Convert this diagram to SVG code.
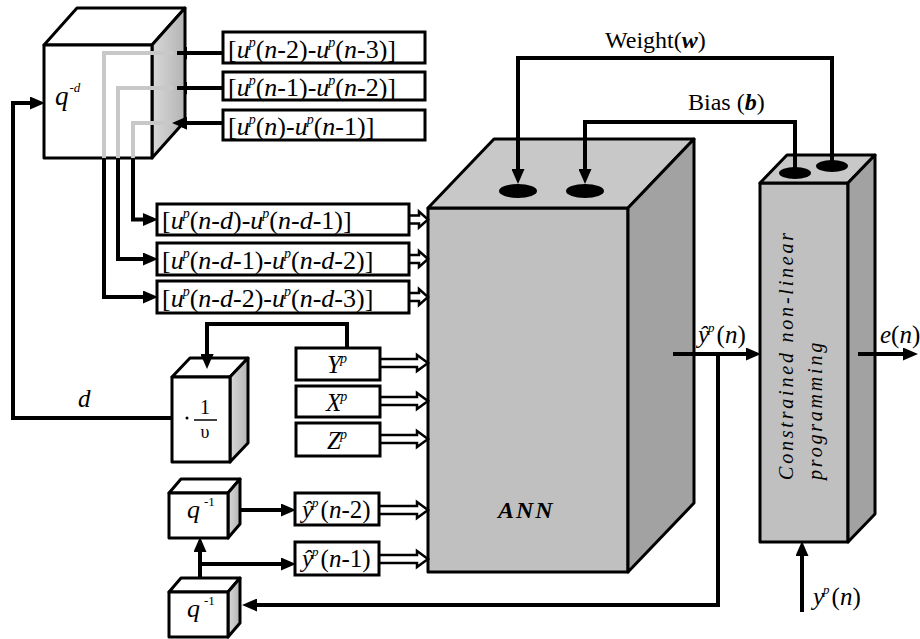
<svg xmlns="http://www.w3.org/2000/svg" width="920" height="639" viewBox="0 0 920 639" font-family="'Liberation Serif', Tinos, 'Times New Roman', 'DejaVu Serif', serif">
<defs>
<marker id="ah" markerUnits="userSpaceOnUse" markerWidth="15" markerHeight="13" refX="10" refY="6.5" orient="auto">
<path d="M0,0 L15,6.5 L0,13 z" fill="#000"/>
</marker>
<linearGradient id="sideG" x1="0" y1="0" x2="1" y2="0">
<stop offset="0" stop-color="#d8d8d8"/>
<stop offset="1" stop-color="#b4b4b4"/>
</linearGradient>
<style>
text{font-family:'Liberation Serif',Tinos,'Times New Roman','DejaVu Serif',serif}
.t{fill:#000}
.bx{fill:#fff;stroke:#000;stroke-width:3}
.cf{fill:#fff;stroke:#000;stroke-width:3;stroke-linejoin:round}
.cs{fill:url(#sideG);stroke:#000;stroke-width:3;stroke-linejoin:round}
.gf{fill:#c0c0c0;stroke:#000;stroke-width:3;stroke-linejoin:round}
.gt{fill:#c8c8c8;stroke:#000;stroke-width:3;stroke-linejoin:round}
.gs{fill:#a2a2a2;stroke:#000;stroke-width:3;stroke-linejoin:round}
.c{fill:none;stroke:#000;stroke-width:4;stroke-linejoin:miter}
.a{marker-end:url(#ah)}
.g{fill:none;stroke:#c8c8c8;stroke-width:4}
.h{fill:#fff;stroke:#000;stroke-width:2.5;stroke-linejoin:miter}
.i{font-style:italic}
.bi{font-style:italic;font-weight:bold}
</style>
</defs>

<g id="ann">
<rect class="gf" x="428" y="208" width="200" height="364"/>
<polygon class="gt" points="428,208 494,139 694,139 628,208"/>
<polygon class="gs" points="628,208 694,139 694,503 628,572"/>
<ellipse cx="518" cy="191" rx="19" ry="7" fill="#000"/>
<ellipse cx="585" cy="191" rx="19" ry="7" fill="#000"/>
<text class="t bi" x="498" y="518" font-size="24" letter-spacing="2">ANN</text>
</g>

<g id="cnlp">
<rect class="gf" x="760" y="183" width="88" height="359"/>
<polygon class="gt" points="760,183 787,155 875,155 848,183"/>
<polygon class="gs" points="848,183 875,155 875,514 848,542"/>
<ellipse cx="795" cy="173" rx="16" ry="6" fill="#000"/>
<ellipse cx="832" cy="166" rx="16" ry="6" fill="#000"/>
<text class="t i" font-size="20" letter-spacing="2.8" transform="translate(793,480) rotate(-90)">Constrained non-linear</text>
<text class="t i" font-size="20" letter-spacing="2.8" transform="translate(822,480) rotate(-90)">programming</text>
</g>

<g id="connectors">
<path class="g" d="M173,53 H104 V158"/>
<path class="g" d="M173,88 H118 V158"/>
<path class="g" d="M173,123 H133 V158"/>
<path class="c a" d="M223,53 H177"/>
<path class="c a" d="M223,88 H177"/>
<path class="c a" d="M223,123 H177"/>
<path class="c a" d="M133,158 V219.5 H153"/>
<path class="c a" d="M118,158 V259 H153"/>
<path class="c a" d="M104,158 V297 H153"/>
<path class="c a" d="M172,418 H13 V103 H40"/>
<path class="c a" d="M347,348 V324 H207 V364"/>
<path class="c a" d="M832,161 V58 H518 V179"/>
<path class="c a" d="M795,168 V122 H585 V179"/>
<path class="c a" d="M673,354 H756"/>
<path class="c a" d="M718,354 V605 H247"/>
<path class="c a" d="M858,354 H913"/>
<path class="c a" d="M802,612 V546"/>
<path class="c a" d="M237,510 H291"/>
<path class="c a" d="M200,580 V542"/>
<path class="c a" d="M200,564 H291"/>
<path class="h" d="M409,215.5 H419 V211.5 L428,219.5 L419,227.5 V223.5 H409"/>
<path class="h" d="M409,255 H419 V251 L428,259 L419,267 V263 H409"/>
<path class="h" d="M409,293 H419 V289 L428,297 L419,305 V301 H409"/>
<path class="h" d="M380,359 H417 V355 L428,363 L417,371 V367 H380"/>
<path class="h" d="M380,397 H417 V393 L428,401 L417,409 V405 H380"/>
<path class="h" d="M380,435 H417 V431 L428,439 L417,447 V443 H380"/>
<path class="h" d="M379,506 H417 V502 L428,510 L417,518 V514 H379"/>
<path class="h" d="M379,555 H417 V551 L428,559 L417,567 V563 H379"/>
</g>

<g id="qd">
<polygon class="cf" points="44,45 77,8 185,8 152,45"/>
<polygon class="cs" points="152,45 185,8 185,121 152,158"/>
<rect class="cf" x="44" y="45" width="108" height="113"/>
<path class="g" d="M173,53 H104 V158 M173,88 H118 V158 M173,123 H133 V158"/>
<path class="c a" d="M186,53 H177 M186,88 H177 M186,123 H177"/>
<text class="t i" x="55" y="105" font-size="27">q<tspan font-size="13" dy="-13" dx="1">-d</tspan></text>
</g>

<g id="in1"><rect class="bx" x="223" y="32" width="202" height="31"/>
<text class="t" x="228" y="58" font-size="26">[<tspan class="i">u</tspan><tspan class="i" font-size="14" dy="-11" dx="-1">p</tspan><tspan dy="11">(</tspan><tspan class="i">n</tspan>-2)-<tspan class="i">u</tspan><tspan class="i" font-size="14" dy="-11" dx="-1">p</tspan><tspan dy="11">(</tspan><tspan class="i">n</tspan>-3)]</text></g>
<g id="in2"><rect class="bx" x="223" y="72" width="202" height="28"/>
<text class="t" x="228" y="96" font-size="26">[<tspan class="i">u</tspan><tspan class="i" font-size="14" dy="-11" dx="-1">p</tspan><tspan dy="11">(</tspan><tspan class="i">n</tspan>-1)-<tspan class="i">u</tspan><tspan class="i" font-size="14" dy="-11" dx="-1">p</tspan><tspan dy="11">(</tspan><tspan class="i">n</tspan>-2)]</text></g>
<g id="in3"><rect class="bx" x="223" y="110" width="202" height="30"/>
<text class="t" x="228" y="135" font-size="26">[<tspan class="i">u</tspan><tspan class="i" font-size="14" dy="-11" dx="-1">p</tspan><tspan dy="11">(</tspan><tspan class="i">n</tspan>)-<tspan class="i">u</tspan><tspan class="i" font-size="14" dy="-11" dx="-1">p</tspan><tspan dy="11">(</tspan><tspan class="i">n</tspan>-1)]</text></g>

<g id="in4"><rect class="bx" x="157" y="204" width="252" height="31"/>
<text class="t" x="162" y="229" font-size="26">[<tspan class="i">u</tspan><tspan class="i" font-size="14" dy="-11" dx="-1">p</tspan><tspan dy="11">(</tspan><tspan class="i">n</tspan>-<tspan class="i">d</tspan>)-<tspan class="i">u</tspan><tspan class="i" font-size="14" dy="-11" dx="-1">p</tspan><tspan dy="11">(</tspan><tspan class="i">n</tspan>-<tspan class="i">d</tspan>-1)]</text></g>
<g id="in5"><rect class="bx" x="157" y="243" width="252" height="32"/>
<text class="t" x="162" y="269" font-size="26">[<tspan class="i">u</tspan><tspan class="i" font-size="14" dy="-11" dx="-1">p</tspan><tspan dy="11">(</tspan><tspan class="i">n</tspan>-<tspan class="i">d</tspan>-1)-<tspan class="i">u</tspan><tspan class="i" font-size="14" dy="-11" dx="-1">p</tspan><tspan dy="11">(</tspan><tspan class="i">n</tspan>-<tspan class="i">d</tspan>-2)]</text></g>
<g id="in6"><rect class="bx" x="157" y="281" width="252" height="32"/>
<text class="t" x="162" y="307" font-size="26">[<tspan class="i">u</tspan><tspan class="i" font-size="14" dy="-11" dx="-1">p</tspan><tspan dy="11">(</tspan><tspan class="i">n</tspan>-<tspan class="i">d</tspan>-2)-<tspan class="i">u</tspan><tspan class="i" font-size="14" dy="-11" dx="-1">p</tspan><tspan dy="11">(</tspan><tspan class="i">n</tspan>-<tspan class="i">d</tspan>-3)]</text></g>

<g id="yp"><rect class="bx" x="296" y="348" width="84" height="32"/>
<text class="t i" x="327" y="373" font-size="25">Y<tspan font-size="14" dy="-10" dx="-1">p</tspan></text></g>
<g id="xp"><rect class="bx" x="296" y="386" width="84" height="31"/>
<text class="t i" x="326" y="411" font-size="25">X<tspan font-size="14" dy="-10" dx="-1">p</tspan></text></g>
<g id="zp"><rect class="bx" x="296" y="423" width="84" height="33"/>
<text class="t i" x="327" y="449" font-size="25">Z<tspan font-size="14" dy="-10" dx="-1">p</tspan></text></g>

<g id="inv">
<polygon class="cf" points="172,377 190,358 248,358 230,377"/>
<polygon class="cs" points="230,377 248,358 248,443 230,462"/>
<rect class="cf" x="172" y="377" width="58" height="85"/>
<path class="c a" d="M207,350 V364"/>
<circle cx="187" cy="418" r="1.5" fill="#000"/>
<line x1="194" y1="420" x2="217" y2="420" stroke="#000" stroke-width="1.5"/>
<text class="t" x="205" y="414" font-size="20" text-anchor="middle">1</text>
<text class="t" x="205" y="438" font-size="18" text-anchor="middle">υ</text>
</g>
<text class="t i" x="78" y="407" font-size="25">d</text>

<g id="q1a">
<polygon class="cf" points="169,493 181,479 240,479 228,493"/>
<polygon class="cs" points="228,493 240,479 240,524 228,538"/>
<rect class="cf" x="169" y="493" width="59" height="45"/>
<text class="t i" x="187" y="518" font-size="26">q<tspan font-style="normal" font-size="13" dy="-12" dx="4">-1</tspan></text>
</g>
<g id="q1b">
<polygon class="cf" points="169,592 181,578 240,578 228,592"/>
<polygon class="cs" points="228,592 240,578 240,623 228,637"/>
<rect class="cf" x="169" y="592" width="59" height="45"/>
<text class="t i" x="187" y="617" font-size="26">q<tspan font-style="normal" font-size="13" dy="-12" dx="4">-1</tspan></text>
</g>

<g id="yh2"><rect class="bx" x="295" y="493" width="84" height="32"/>
<text class="t" x="302" y="518" font-size="25"><tspan class="i">ŷ</tspan><tspan class="i" font-size="13" dy="-11" dx="-1">p</tspan><tspan dy="11" dx="2">(</tspan><tspan class="i">n</tspan>-2)</text></g>
<g id="yh1"><rect class="bx" x="295" y="542" width="84" height="33"/>
<text class="t" x="302" y="567" font-size="25"><tspan class="i">ŷ</tspan><tspan class="i" font-size="13" dy="-11" dx="-1">p</tspan><tspan dy="11" dx="2">(</tspan><tspan class="i">n</tspan>-1)</text></g>

<g id="labels">
<text class="t" x="605" y="48" font-size="24">Weight(<tspan class="bi">w</tspan>)</text>
<text class="t" x="688" y="110" font-size="24">Bias (<tspan class="bi">b</tspan>)</text>
<text class="t" x="698" y="343" font-size="25"><tspan class="i">ŷ</tspan><tspan class="i" font-size="13" dy="-11" dx="-1">p</tspan><tspan dy="11" dx="2">(</tspan><tspan class="i">n</tspan>)</text>
<text class="t" x="880" y="343" font-size="25"><tspan class="i">e</tspan>(<tspan class="i">n</tspan>)</text>
<text class="t" x="813" y="605" font-size="25"><tspan class="i">y</tspan><tspan class="i" font-size="13" dy="-11" dx="-1">p</tspan><tspan dy="11" dx="2">(</tspan><tspan class="i">n</tspan>)</text>
</g>
</svg>
